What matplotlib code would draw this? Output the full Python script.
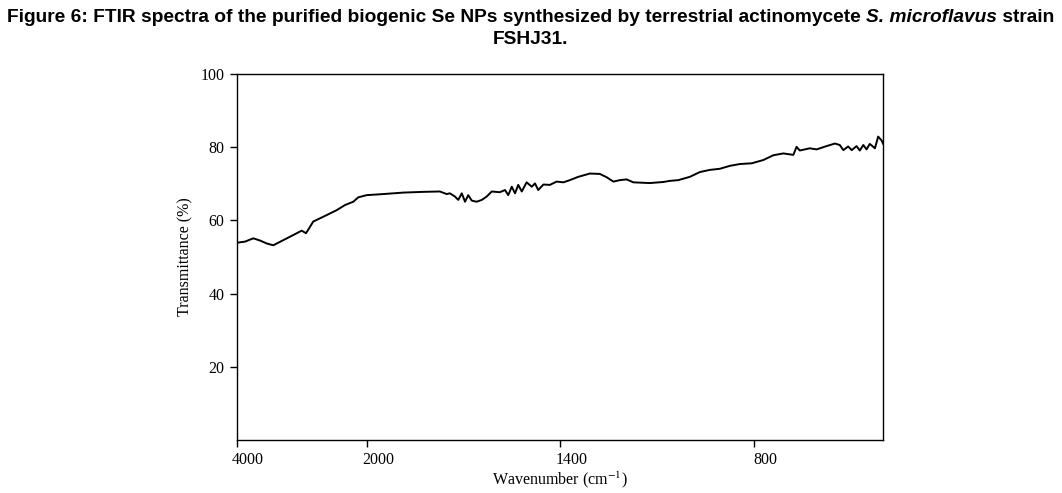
import numpy as np
import matplotlib
matplotlib.use("Agg")
from matplotlib import pyplot as plt
from matplotlib.transforms import ScaledTranslation

# FTIR spectrum (wavenumber in cm-1, transmittance in %)
wavenumber = [4000, 3877, 3749, 3646, 3543, 3442, 3288, 3134, 3005, 2938,
              2826, 2672, 2466, 2338, 2211, 2134, 2005, 1949, 1887, 1825,
              1774, 1753, 1743, 1727, 1717, 1706, 1696, 1686, 1675, 1660,
              1644, 1629, 1613, 1588, 1572, 1562, 1551, 1541, 1531, 1520,
              1505, 1489, 1479, 1469, 1453, 1433, 1412, 1391, 1371, 1345,
              1329, 1309, 1278, 1257, 1236, 1216, 1195, 1174, 1123, 1081,
              1061, 1035, 999, 968, 937, 906, 875, 844, 807, 771,
              740, 709, 678, 668, 658, 627, 606, 575, 549, 534,
              523, 508, 497, 482, 472, 461, 451, 441, 425, 415, 404, 400]
transmittance = [53.9, 54.2, 55.1, 54.5, 53.7, 53.2, 54.6, 56.0, 57.2, 56.5,
                 59.7, 61.0, 62.8, 64.2, 65.1, 66.3, 66.9, 67.2, 67.6, 67.8,
                 67.9, 67.2, 67.4, 66.5, 65.6, 67.4, 65.1, 66.9, 65.4, 65.1,
                 65.6, 66.5, 67.9, 67.7, 68.3, 66.9, 69.2, 67.4, 69.7, 67.9,
                 70.4, 69.2, 70.1, 68.3, 69.8, 69.7, 70.6, 70.4, 71.0, 71.9,
                 72.3, 72.8, 72.7, 71.8, 70.6, 71.0, 71.2, 70.4, 70.2, 70.5,
                 70.8, 71.0, 71.9, 73.2, 73.8, 74.1, 74.9, 75.4, 75.6, 76.5,
                 77.8, 78.3, 77.9, 80.1, 79.1, 79.7, 79.4, 80.3, 81.0, 80.6,
                 79.2, 80.2, 79.2, 80.3, 79.1, 80.6, 79.4, 80.9, 79.7, 82.9, 81.8, 81.0]

x_ticks = [4000, 2000, 1400, 800]
y_ticks = [20, 40, 60, 80, 100]

# the axis is compressed above 2000 cm-1, like the spectrometer printout
BREAK = 2000.0
LOW = 400.0
low_span = (BREAK - LOW) / 3.1


def forward(wn):
    wn = np.asarray(wn, dtype=float)
    return np.where(wn <= BREAK, (wn - LOW) / 3.1, low_span + (wn - BREAK) * 130.0 / 2000.0)


def inverse(p):
    p = np.asarray(p, dtype=float)
    return np.where(p <= low_span, LOW + p * 3.1, BREAK + (p - low_span) * 2000.0 / 130.0)


serif = ['Liberation Serif', 'DejaVu Serif']

fig = plt.figure(figsize=(10.62, 4.93), dpi=100)
ax = fig.add_axes([237 / 1062, 1 - 440 / 493, 646 / 1062, 366 / 493])

ax.plot(wavenumber, transmittance, color='black', lw=1.4)
ax.set_xscale('function', functions=(forward, inverse))
ax.set_xlim(4000, 400)
ax.set_ylim(0, 100)

ax.set_xticks(x_ticks)
ax.set_xticklabels([str(t) for t in x_ticks])
ax.set_yticks(y_ticks)
ax.set_yticklabels([str(t) for t in y_ticks])
ax.tick_params(direction='out', length=5, width=1, colors='black', labelsize=11.5, pad=4)
for lbl in ax.get_xticklabels() + ax.get_yticklabels():
    lbl.set_family(serif)
for lbl in ax.get_xticklabels():
    lbl.set_transform(lbl.get_transform() + ScaledTranslation(0.11, 0, fig.dpi_scale_trans))

for sp in ax.spines.values():
    sp.set_linewidth(1.0)

ax.set_ylabel('Transmittance (%)', family=serif, fontsize=11.5, labelpad=5)
ax.set_xlabel('Wavenumber (cm$^{-1}$)', family=serif, fontsize=11.5, labelpad=1,
              math_fontfamily='stix')

# title, with the strain name in italic
title_font = dict(family=['Liberation Sans', 'DejaVu Sans'], fontsize=13.8,
                  weight='bold', color='black')
fig.canvas.draw()
renderer = fig.canvas.get_renderer()
parts = [('Figure 6: FTIR spectra of the purified biogenic Se NPs synthesized by terrestrial actinomycete ', 'normal'),
         ('S. microflavus', 'italic'),
         (' strain', 'normal')]
widths = []
for txt, style in parts:
    t = fig.text(0, 0, txt, style=style, **title_font)
    widths.append(t.get_window_extent(renderer).width)
    t.remove()
x0 = (1062 - sum(widths)) / 2
for (txt, style), w in zip(parts, widths):
    fig.text(x0 / 1062, 1 - 17 / 493, txt, style=style, va='center', ha='left', **title_font)
    x0 += w
fig.text(0.5, 1 - 40 / 493, 'FSHJ31.', ha='center', va='center', **title_font)

fig.savefig('out.png', dpi=100)
